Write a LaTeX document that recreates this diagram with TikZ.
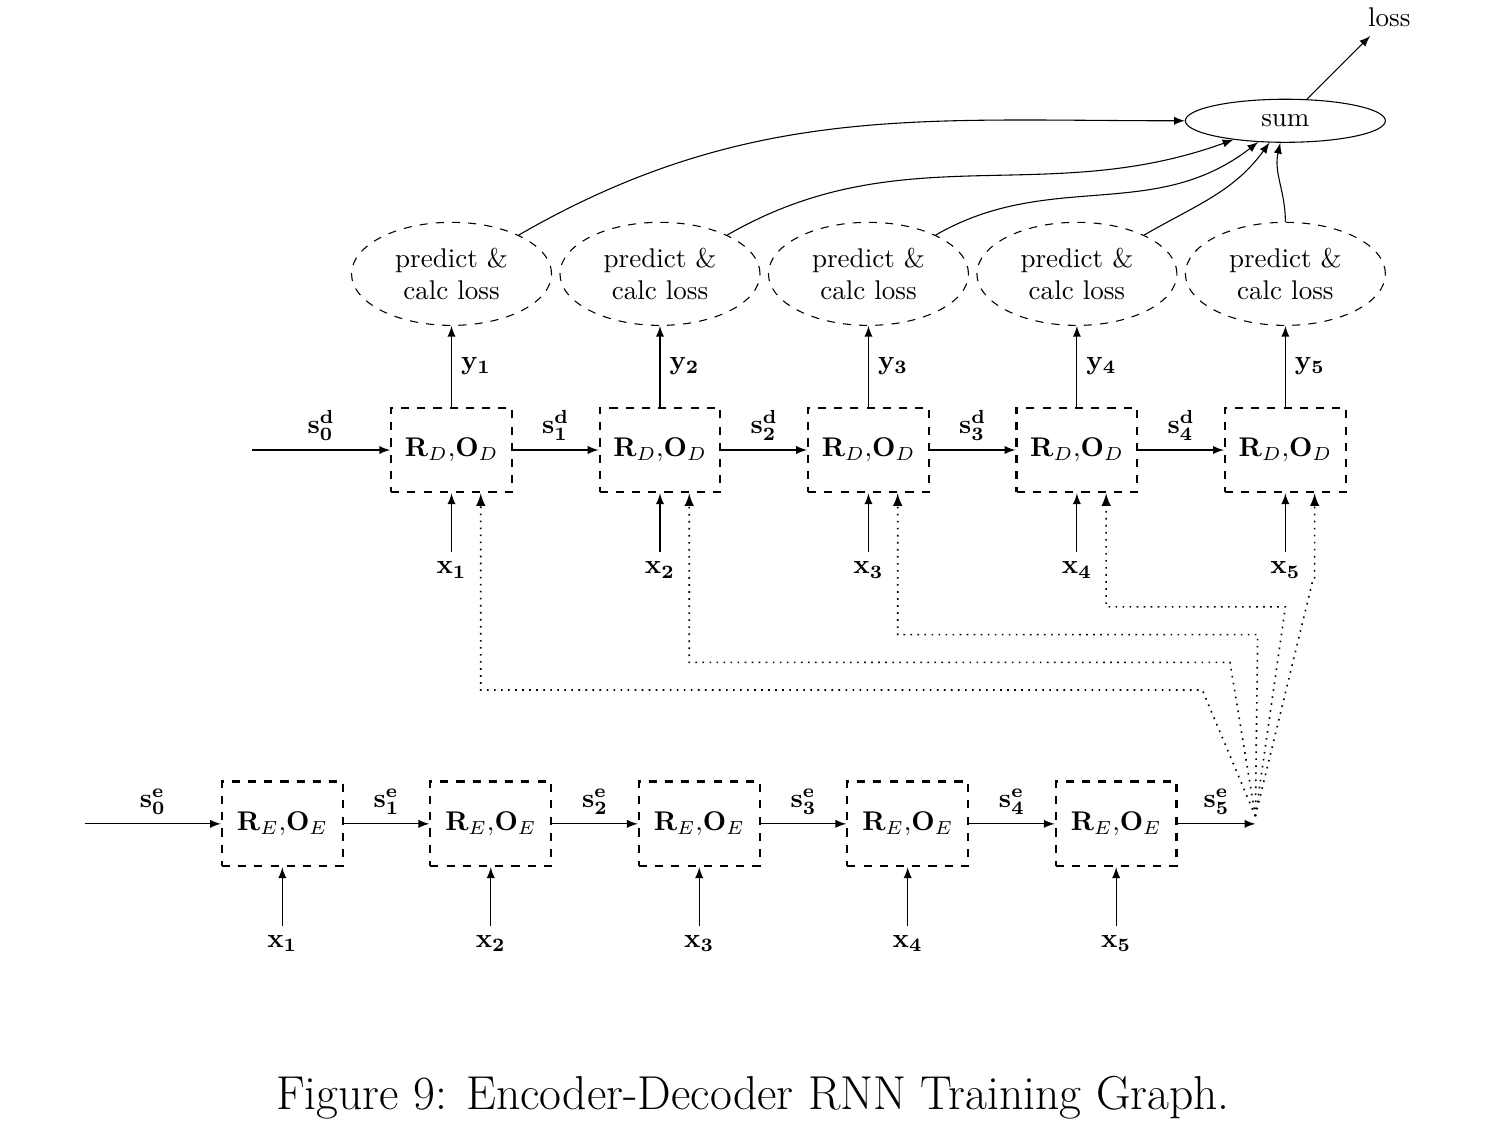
\documentclass[tikz,border=0pt]{standalone}
\usetikzlibrary{positioning,shapes.geometric}

\tikzset{
  rnnbox/.style  = {draw, thick, dashed, minimum width=1.57cm, minimum height=1.1cm},
  lossnode/.style = {ellipse, draw, dashed, align=center, inner sep=1pt,
                     minimum width=2.6cm, minimum height=1.34cm},
  sumnode/.style = {ellipse, draw, inner sep=1pt, minimum width=2.6cm, minimum height=0.56cm},
  feed/.style    = {->, dotted, semithick},
}

\begin{document}
\begin{tikzpicture}[node distance = 2.71cm, >=latex]
      \useasboundingbox (-3.67,-3.91) rectangle (15.83,10.71);

      % encoder row
      \node [rnnbox]                  (re1) {$\mathbf{R}_E{,}\mathbf{O}_E$};
      \node [rnnbox, right of = re1]  (re2) {$\mathbf{R}_E{,}\mathbf{O}_E$};
      \node [rnnbox, right of = re2]  (re3) {$\mathbf{R}_E{,}\mathbf{O}_E$};
      \node [rnnbox, right of = re3]  (re4) {$\mathbf{R}_E{,}\mathbf{O}_E$};
      \node [rnnbox, right of = re4]  (re5) {$\mathbf{R}_E{,}\mathbf{O}_E$};
      \coordinate [node distance = 2.57cm, left of = re1]  (se0);
      \coordinate [node distance = 1.81cm, right of = re5] (se5);
      \node [node distance = 1.56cm, below of = re1] (xe1) {$\mathbf{x_1}$};
      \node [node distance = 1.56cm, below of = re2] (xe2) {$\mathbf{x_2}$};
      \node [node distance = 1.56cm, below of = re3] (xe3) {$\mathbf{x_3}$};
      \node [node distance = 1.56cm, below of = re4] (xe4) {$\mathbf{x_4}$};
      \node [node distance = 1.56cm, below of = re5] (xe5) {$\mathbf{x_5}$};

      % decoder row
      \node [rnnbox] at (2.2,4.86)    (rd1) {$\mathbf{R}_D{,}\mathbf{O}_D$};
      \node [rnnbox, right of = rd1]  (rd2) {$\mathbf{R}_D{,}\mathbf{O}_D$};
      \node [rnnbox, right of = rd2]  (rd3) {$\mathbf{R}_D{,}\mathbf{O}_D$};
      \node [rnnbox, right of = rd3]  (rd4) {$\mathbf{R}_D{,}\mathbf{O}_D$};
      \node [rnnbox, right of = rd4]  (rd5) {$\mathbf{R}_D{,}\mathbf{O}_D$};
      \coordinate [node distance = 2.59cm, left of = rd1] (sd0);
      \node [node distance = 1.56cm, below of = rd1] (xd1) {$\mathbf{x_1}$};
      \node [node distance = 1.56cm, below of = rd2] (xd2) {$\mathbf{x_2}$};
      \node [node distance = 1.56cm, below of = rd3] (xd3) {$\mathbf{x_3}$};
      \node [node distance = 1.56cm, below of = rd4] (xd4) {$\mathbf{x_4}$};
      \node [node distance = 1.56cm, below of = rd5] (xd5) {$\mathbf{x_5}$};

      % losses
      \node [lossnode, node distance = 2.29cm, above of = rd1] (p1) {predict \&\\calc loss};
      \node [lossnode, node distance = 2.29cm, above of = rd2] (p2) {predict \&\\calc loss};
      \node [lossnode, node distance = 2.29cm, above of = rd3] (p3) {predict \&\\calc loss};
      \node [lossnode, node distance = 2.29cm, above of = rd4] (p4) {predict \&\\calc loss};
      \node [lossnode, node distance = 2.29cm, above of = rd5] (p5) {predict \&\\calc loss};
      \node [sumnode, node distance = 1.99cm, above of = p5] (sum) {sum};
      \node [node distance = 1.91cm, above right of = sum]   (loss) {loss};

      \path[->] (se0) edge node[above] {$\mathbf{s^e_0}$} (re1)
                (re1) edge node[above] {$\mathbf{s^e_1}$} (re2)
                (re2) edge node[above] {$\mathbf{s^e_2}$} (re3)
                (re3) edge node[above] {$\mathbf{s^e_3}$} (re4)
                (re4) edge node[above] {$\mathbf{s^e_4}$} (re5)
                (re5) edge node[above] {$\mathbf{s^e_5}$} (se5)
                (xe1) edge (re1)
                (xe2) edge (re2)
                (xe3) edge (re3)
                (xe4) edge (re4)
                (xe5) edge (re5)
      ;
      \path[->] (sd0) edge node[above] {$\mathbf{s^d_0}$} (rd1)
                (rd1) edge node[above] {$\mathbf{s^d_1}$} (rd2)
                (rd2) edge node[above] {$\mathbf{s^d_2}$} (rd3)
                (rd3) edge node[above] {$\mathbf{s^d_3}$} (rd4)
                (rd4) edge node[above] {$\mathbf{s^d_4}$} (rd5)
                (xd1) edge (rd1)
                (xd2) edge (rd2)
                (xd3) edge (rd3)
                (xd4) edge (rd4)
                (xd5) edge (rd5)
                (rd1) edge node[right] {$\mathbf{y_1}$} (p1)
                (rd2) edge node[right] {$\mathbf{y_2}$} (p2)
                (rd3) edge node[right] {$\mathbf{y_3}$} (p3)
                (rd4) edge node[right] {$\mathbf{y_4}$} (p4)
                (rd5) edge node[right] {$\mathbf{y_5}$} (p5)
      ;
      \path[->] (p1) edge[out=30, in=180]  (sum)
                (p2) edge[out=30, in=-160] (sum)
                (p3) edge[out=30, in=-142] (sum)
                (p4) edge[out=30, in=-126] (sum)
                (p5) edge[out=90, in=-103] (sum)
                (sum) edge (loss)
      ;

      % encoder state fed to every decoder step
      \draw[feed] ([yshift=0.1cm]se5) -- (11.96,1.74) -| ([xshift=0.38cm]rd1.south);
      \draw[feed] ([yshift=0.1cm]se5) -- (12.32,2.10) -| ([xshift=0.38cm]rd2.south);
      \draw[feed] ([yshift=0.1cm]se5) -- (12.68,2.46) -| ([xshift=0.38cm]rd3.south);
      \draw[feed] ([yshift=0.1cm]se5) -- (13.04,2.82) -| ([xshift=0.38cm]rd4.south);
      \draw[feed] ([yshift=0.1cm]se5) -- (13.40,3.18) -| ([xshift=0.38cm]rd5.south);

      \node [font=\fontsize{17.6}{21}\selectfont] at (6.12,-3.56) (caption)
            {Figure 9: Encoder-Decoder RNN Training Graph.};
    \end{tikzpicture}
\end{document}
